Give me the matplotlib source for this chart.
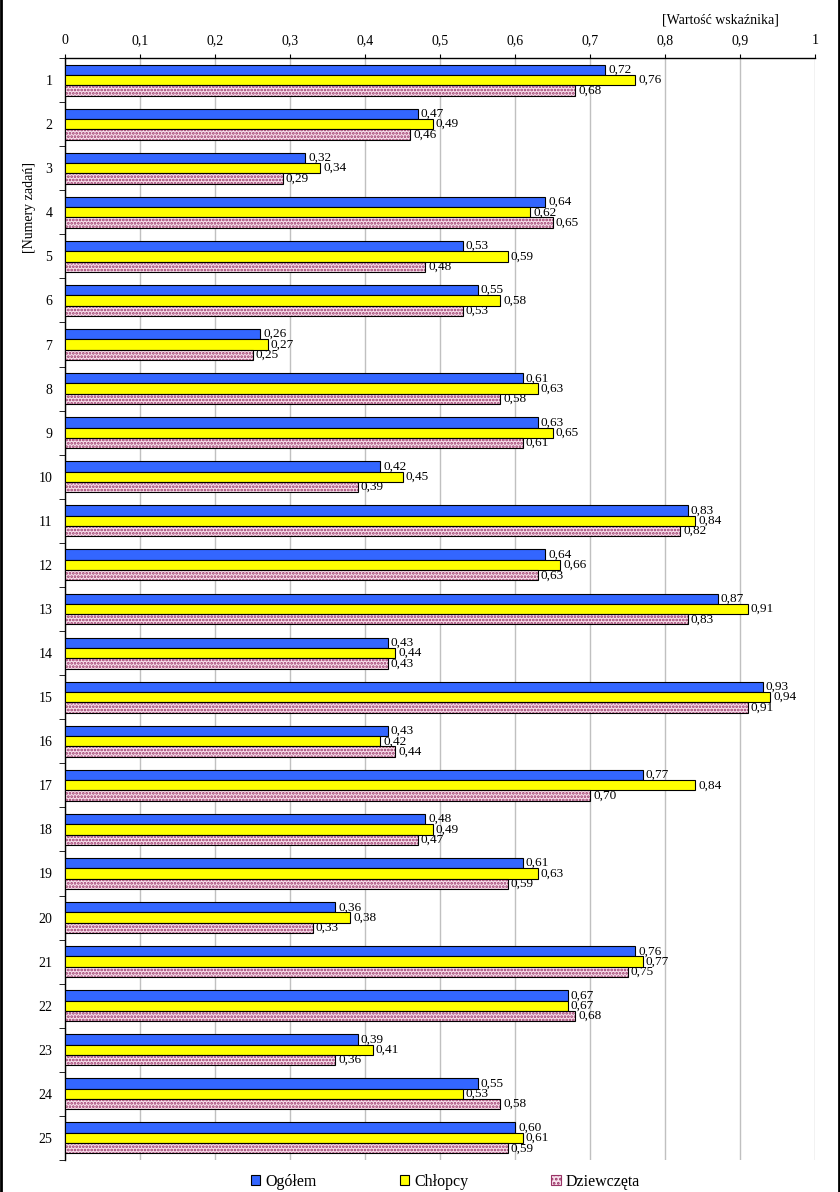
import matplotlib
matplotlib.use("Agg")
import matplotlib.pyplot as plt
import numpy as np
from matplotlib.patches import Patch
from matplotlib.lines import Line2D

plt.rcParams['font.family'] = ['Liberation Serif', 'DejaVu Serif']

tasks = [str(i) for i in range(1, 26)]
ogolem = [0.72, 0.47, 0.32, 0.64, 0.53, 0.55, 0.26, 0.61, 0.63, 0.42,
          0.83, 0.64, 0.87, 0.43, 0.93, 0.43, 0.77, 0.48, 0.61, 0.36,
          0.76, 0.67, 0.39, 0.55, 0.60]
chlopcy = [0.76, 0.49, 0.34, 0.62, 0.59, 0.58, 0.27, 0.63, 0.65, 0.45,
           0.84, 0.66, 0.91, 0.44, 0.94, 0.42, 0.84, 0.49, 0.63, 0.38,
           0.77, 0.67, 0.41, 0.53, 0.61]
dziewczeta = [0.68, 0.46, 0.29, 0.65, 0.48, 0.53, 0.25, 0.58, 0.61, 0.39,
              0.82, 0.63, 0.83, 0.43, 0.91, 0.44, 0.70, 0.47, 0.59, 0.33,
              0.75, 0.68, 0.36, 0.58, 0.59]
series_names = ['Ogółem', 'Chłopcy', 'Dziewczęta']
xticks = [0, 0.1, 0.2, 0.3, 0.4, 0.5, 0.6, 0.7, 0.8, 0.9, 1]

blue = '#3366FF'
yellow = '#FFFF00'
pink_bg = '#F8E0EC'
pink_dot = '#993366'

fig = plt.figure(figsize=(8.4, 11.92), dpi=100)
ax = fig.add_axes([65/840, 1 - 1160/1192, 750/840, 1102/1192])

n = len(tasks)
y = np.arange(n)
h = 0.234

def fmt(v):
    return f"{v:.2f}".replace('.', ',')

b1 = ax.barh(y - h, ogolem, height=h, color=blue, edgecolor='black', linewidth=0.8, zorder=3)
b2 = ax.barh(y, chlopcy, height=h, color=yellow, edgecolor='black', linewidth=0.8, zorder=3)
plt.rcParams['hatch.linewidth'] = 1.3
b3 = ax.barh(y + h, dziewczeta, height=h, color=pink_bg, edgecolor=pink_dot, hatch='.....',
             linewidth=0, zorder=3)
ax.barh(y + h, dziewczeta, height=h, fill=False, edgecolor='black', linewidth=0.8, zorder=4)

for bars, vals in ((b1, ogolem), (b2, chlopcy), (b3, dziewczeta)):
    ax.bar_label(bars, labels=[fmt(v) for v in vals], padding=2.5, fontsize=9.5, zorder=5)

ax.set_xlim(0, 1)
ax.set_ylim(n - 0.5, -0.5)
ax.xaxis.tick_top()
ax.set_xticks(xticks)
ax.set_xticklabels([('%g' % t).replace('.', ',') for t in xticks], fontsize=10)
ax.tick_params(axis='x', length=3, pad=5)
ax.set_yticks(y)
ax.set_yticklabels(tasks, fontsize=10)
ax.set_yticks(np.arange(-0.5, n, 1), minor=True)
ax.tick_params(axis='y', which='major', length=0, pad=9)
ax.tick_params(axis='y', which='minor', length=4, direction='out')
ax.grid(axis='x', color='#c0c0c0', linewidth=1, zorder=0)
ax.set_axisbelow(True)
for s in ('right', 'bottom'):
    ax.spines[s].set_visible(False)
ax.spines['left'].set_linewidth(1)
ax.spines['top'].set_linewidth(1)

fig.text(720/840, 1 - 20/1192, '[Wartość wskaźnika]', fontsize=10, ha='center', va='center')
fig.text(30/840, 1 - 207/1192, '[Numery zadań]', fontsize=10, ha='center', va='center', rotation=90)

handles = [Patch(facecolor=blue, edgecolor='black', linewidth=0.8),
           Patch(facecolor=yellow, edgecolor='black', linewidth=0.8),
           Patch(facecolor=pink_bg, edgecolor=pink_dot, hatch='....', linewidth=0.8)]
leg = fig.legend(handles, series_names, loc='center', bbox_to_anchor=(0.53, 1 - 1182/1192),
                 ncol=3, frameon=False, fontsize=11.5, handlelength=0.6, handleheight=0.6,
                 handletextpad=0.3, columnspacing=5.2)

fig.add_artist(Line2D([1/840, 1/840], [0, 1], color='black', linewidth=2, transform=fig.transFigure))
fig.add_artist(Line2D([839/840, 839/840], [0, 1], color='black', linewidth=2, transform=fig.transFigure))

fig.savefig('out.png', dpi=100)
